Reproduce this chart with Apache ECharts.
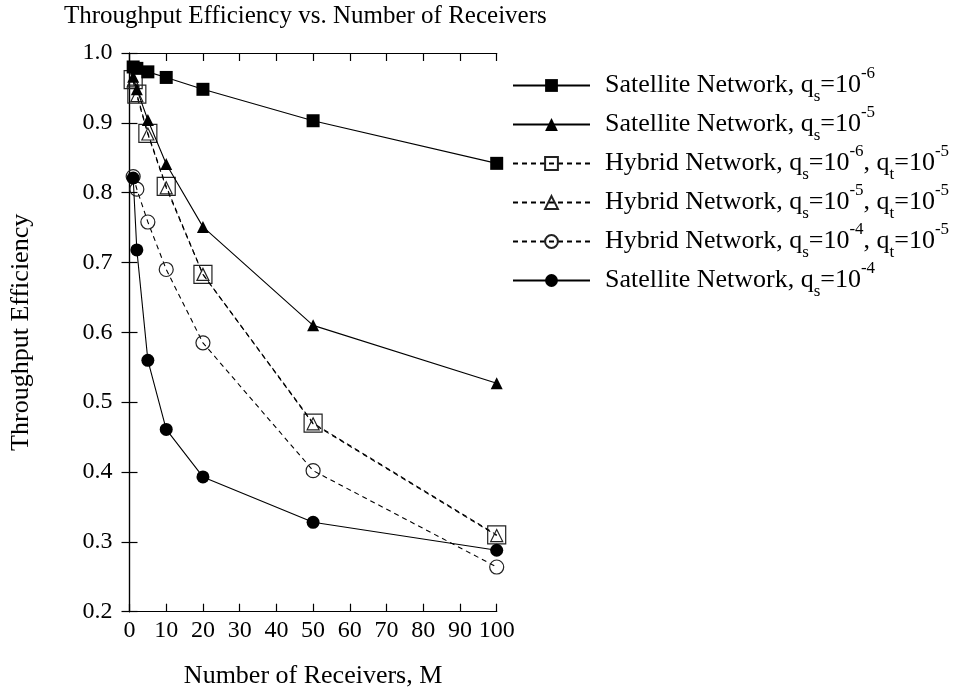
<!DOCTYPE html>
<html>
<head>
<meta charset="utf-8">
<script src="https://cdn.jsdelivr.net/npm/echarts@6/dist/echarts.min.js"></script>
<style>
html,body{margin:0;padding:0;background:#fff;}
#chart{width:959px;height:690px;}
</style>
</head>
<body>
<div id="chart"></div>
<script>
// Number of receivers M
const receivers = [1, 2, 5, 10, 20, 50, 100];
// Throughput efficiency per series
const satQs6 = [0.980, 0.978, 0.973, 0.965, 0.948, 0.903, 0.842];
const satQs5 = [0.966, 0.948, 0.904, 0.841, 0.751, 0.610, 0.527];
const hybQs6 = [0.962, 0.941, 0.885, 0.809, 0.683, 0.470, 0.310];
const hybQs5 = [0.960, 0.939, 0.884, 0.807, 0.683, 0.469, 0.309];
const hybQs4 = [0.823, 0.805, 0.758, 0.690, 0.585, 0.402, 0.264];
const satQs4 = [0.821, 0.718, 0.560, 0.461, 0.393, 0.328, 0.288];

const xTicks = [0, 10, 20, 30, 40, 50, 60, 70, 80, 90, 100];
const yTicks = [0.2, 0.3, 0.4, 0.5, 0.6, 0.7, 0.8, 0.9, 1.0];

const seriesNames = [
  'Satellite Network, qs=10-6',
  'Satellite Network, qs=10-5',
  'Hybrid Network, qs=10-6, qt=10-5',
  'Hybrid Network, qs=10-5, qt=10-5',
  'Hybrid Network, qs=10-4, qt=10-5',
  'Satellite Network, qs=10-4'
];
const legendRich = [
  '{b|Satellite Network, q}{sub|s}{b|=10}{sup|-6}',
  '{b|Satellite Network, q}{sub|s}{b|=10}{sup|-5}',
  '{b|Hybrid Network, q}{sub|s}{b|=10}{sup|-6}{b|, q}{sub|t}{b|=10}{sup|-5}',
  '{b|Hybrid Network, q}{sub|s}{b|=10}{sup|-5}{b|, q}{sub|t}{b|=10}{sup|-5}',
  '{b|Hybrid Network, q}{sub|s}{b|=10}{sup|-4}{b|, q}{sub|t}{b|=10}{sup|-5}',
  '{b|Satellite Network, q}{sub|s}{b|=10}{sup|-4}'
];

const FONT = '"Liberation Serif", "DejaVu Serif", serif';
const toPairs = arr => receivers.map((m, i) => [m, arr[i]]);

const chart = echarts.init(document.getElementById('chart'), null, {renderer: 'canvas'});

const axisLine = {show: true, lineStyle: {color: '#000', width: 1.2}};
const tickIn = {show: true, inside: true, length: 8, lineStyle: {color: '#000', width: 1.2}};

function mk(name, data, symbol, size, filled, dashed, z) {
  return {
    name: name,
    type: 'line',
    data: toPairs(data),
    symbol: symbol,
    symbolSize: size,
    showSymbol: true,
    animation: false,
    z: z,
    lineStyle: {color: '#000', width: 1.1, type: dashed ? [5, 4] : 'solid'},
    itemStyle: filled ? {color: '#000', borderColor: '#000', borderWidth: 0}
                      : {color: 'rgba(0,0,0,0)', borderColor: '#222', borderWidth: 1.2}
  };
}

const option = {
  backgroundColor: '#fff',
  animation: false,
  title: {
    text: 'Throughput Efficiency vs. Number of Receivers',
    left: 64, top: 4, padding: 0,
    textStyle: {fontFamily: FONT, fontSize: 25, fontWeight: 'normal', color: '#000'}
  },
  grid: {left: 129.5, right: 462.3, top: 53, bottom: 78.3, containLabel: false, outerBoundsMode: 'none'},
  legend: {
    orient: 'vertical',
    left: 512, top: 65, padding: 0,
    itemWidth: 77, itemHeight: 16, itemGap: -2,
    data: seriesNames,
    formatter: function (name) { return legendRich[seriesNames.indexOf(name)]; },
    textStyle: {
      fontFamily: FONT, color: '#000', padding: [0, 0, 0, 10],
      rich: {
        b: {fontFamily: FONT, fontSize: 26, lineHeight: 26, color: '#000'},
        sub: {fontFamily: FONT, fontSize: 17, lineHeight: 1, padding: [23, 0, 0, 0], color: '#000'},
        sup: {fontFamily: FONT, fontSize: 17, lineHeight: 1, padding: [0, 0, 24, 0], color: '#000'}
      }
    }
  },
  xAxis: [{
    type: 'value', position: 'bottom', min: 0, max: 100, interval: 10,
    axisLine: axisLine, axisTick: tickIn, splitLine: {show: false},
    axisLabel: {fontFamily: FONT, fontSize: 24, color: '#000', margin: 7,
      formatter: v => (xTicks.indexOf(v) >= 0 ? String(v) : '')},
    name: 'Number of Receivers, M', nameLocation: 'middle', nameGap: 51,
    nameTextStyle: {fontFamily: FONT, fontSize: 26, color: '#000'}
  }, {
    type: 'value', position: 'top', min: 0, max: 100, interval: 10,
    axisLine: axisLine, axisTick: tickIn, axisLabel: {show: false}, splitLine: {show: false}
  }],
  yAxis: [{
    type: 'value', position: 'left', min: 0.2, max: 1.0, interval: 0.1,
    axisLine: axisLine, axisTick: tickIn, splitLine: {show: false},
    axisLabel: {fontFamily: FONT, fontSize: 24, color: '#000', margin: 17, padding: [3, 0, 0, 0],
      formatter: v => {
        const t = yTicks.find(k => Math.abs(k - v) < 1e-6);
        return t === undefined ? '' : t.toFixed(1);
      }},
    name: 'Throughput Efficiency', nameLocation: 'middle', nameGap: 95, nameRotate: 90,
    nameTextStyle: {fontFamily: FONT, fontSize: 26, color: '#000'}
  }, {
    type: 'value', position: 'right', min: 0.2, max: 1.0, interval: 0.1,
    axisLine: axisLine, axisTick: tickIn, axisLabel: {show: false}, splitLine: {show: false}
  }],
  series: [
    mk(seriesNames[0], satQs6, 'rect', 13, true, false, 6),
    mk(seriesNames[1], satQs5, 'triangle', 12, true, false, 5),
    mk(seriesNames[2], hybQs6, 'rect', 18, false, true, 3),
    mk(seriesNames[3], hybQs5, 'triangle', 12, false, true, 4),
    mk(seriesNames[4], hybQs4, 'circle', 14, false, true, 2),
    mk(seriesNames[5], satQs4, 'circle', 13, true, false, 7)
  ]
};
chart.setOption(option);
</script>
</body>
</html>
